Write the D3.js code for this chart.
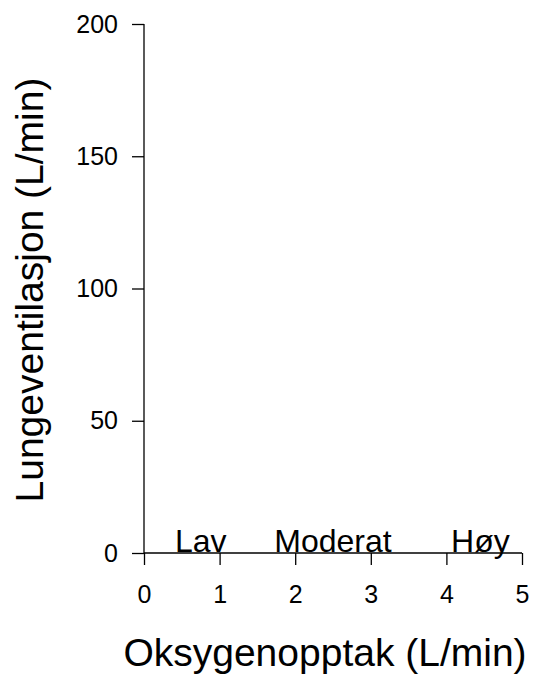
<!DOCTYPE html>
<html>
<head>
<meta charset="utf-8">
<script src="https://cdn.jsdelivr.net/npm/d3@7"></script>
<style>
  html, body { margin: 0; padding: 0; background: #fff; }
  svg { display: block; }
  text { font-family: "Liberation Sans", Arial, sans-serif; fill: #000; }
</style>
</head>
<body>
<div id="chart"></div>
<script>
// Data
const categories = ["Lav", "Moderat", "Høy"];
const categoryX = [0.75, 2.5, 4.45];
const categoryY = [0, 0, 0];
const xTicks = [0, 1, 2, 3, 4, 5];
const yTicks = [0, 50, 100, 150, 200];
const xTitle = "Oksygenopptak (L/min)";
const yTitle = "Lungeventilasjon (L/min)";

const width = 540, height = 677;
const svg = d3.select("#chart").append("svg")
  .attr("width", width).attr("height", height);

const x = d3.scaleLinear().domain([0, 5]).range([144, 522]);
const y = d3.scaleLinear().domain([0, 200]).range([553, 24]);

// X axis
const xAxis = svg.append("g").attr("transform", `translate(0,${y(0)})`)
  .call(d3.axisBottom(x).tickValues(xTicks).tickSize(12).tickPadding(20).tickFormat(d3.format("d")));
xAxis.select(".domain").attr("d", `M${x(0)},0H${x(5)}`);
xAxis.selectAll("path, line").attr("stroke", "#000").attr("stroke-width", 1.3);
xAxis.selectAll("text").style("font-size", "25px").attr("font-family", "Liberation Sans, Arial, sans-serif");

// Y axis
const yAxis = svg.append("g").attr("transform", `translate(${x(0)},0)`)
  .call(d3.axisLeft(y).tickValues(yTicks).tickSize(12).tickPadding(14).tickFormat(d3.format("d")));
yAxis.select(".domain").attr("d", `M0,${y(0)}V${y(200)}`);
yAxis.selectAll("path, line").attr("stroke", "#000").attr("stroke-width", 1.3);
yAxis.selectAll("text").style("font-size", "25px").attr("font-family", "Liberation Sans, Arial, sans-serif");

// Category labels
svg.append("g").selectAll("text").data(categories).join("text")
  .attr("x", (d, i) => x(categoryX[i]))
  .attr("y", (d, i) => y(categoryY[i]) - 1)
  .attr("text-anchor", "middle")
  .style("font-size", "32px")
  .text(d => d);

// Axis titles
svg.append("text")
  .attr("x", 325).attr("y", 666)
  .attr("text-anchor", "middle")
  .style("font-size", "39px")
  .text(xTitle);

svg.append("text")
  .attr("transform", `translate(43,290) rotate(-90)`)
  .attr("text-anchor", "middle")
  .style("font-size", "39px")
  .text(yTitle);
</script>
</body>
</html>
